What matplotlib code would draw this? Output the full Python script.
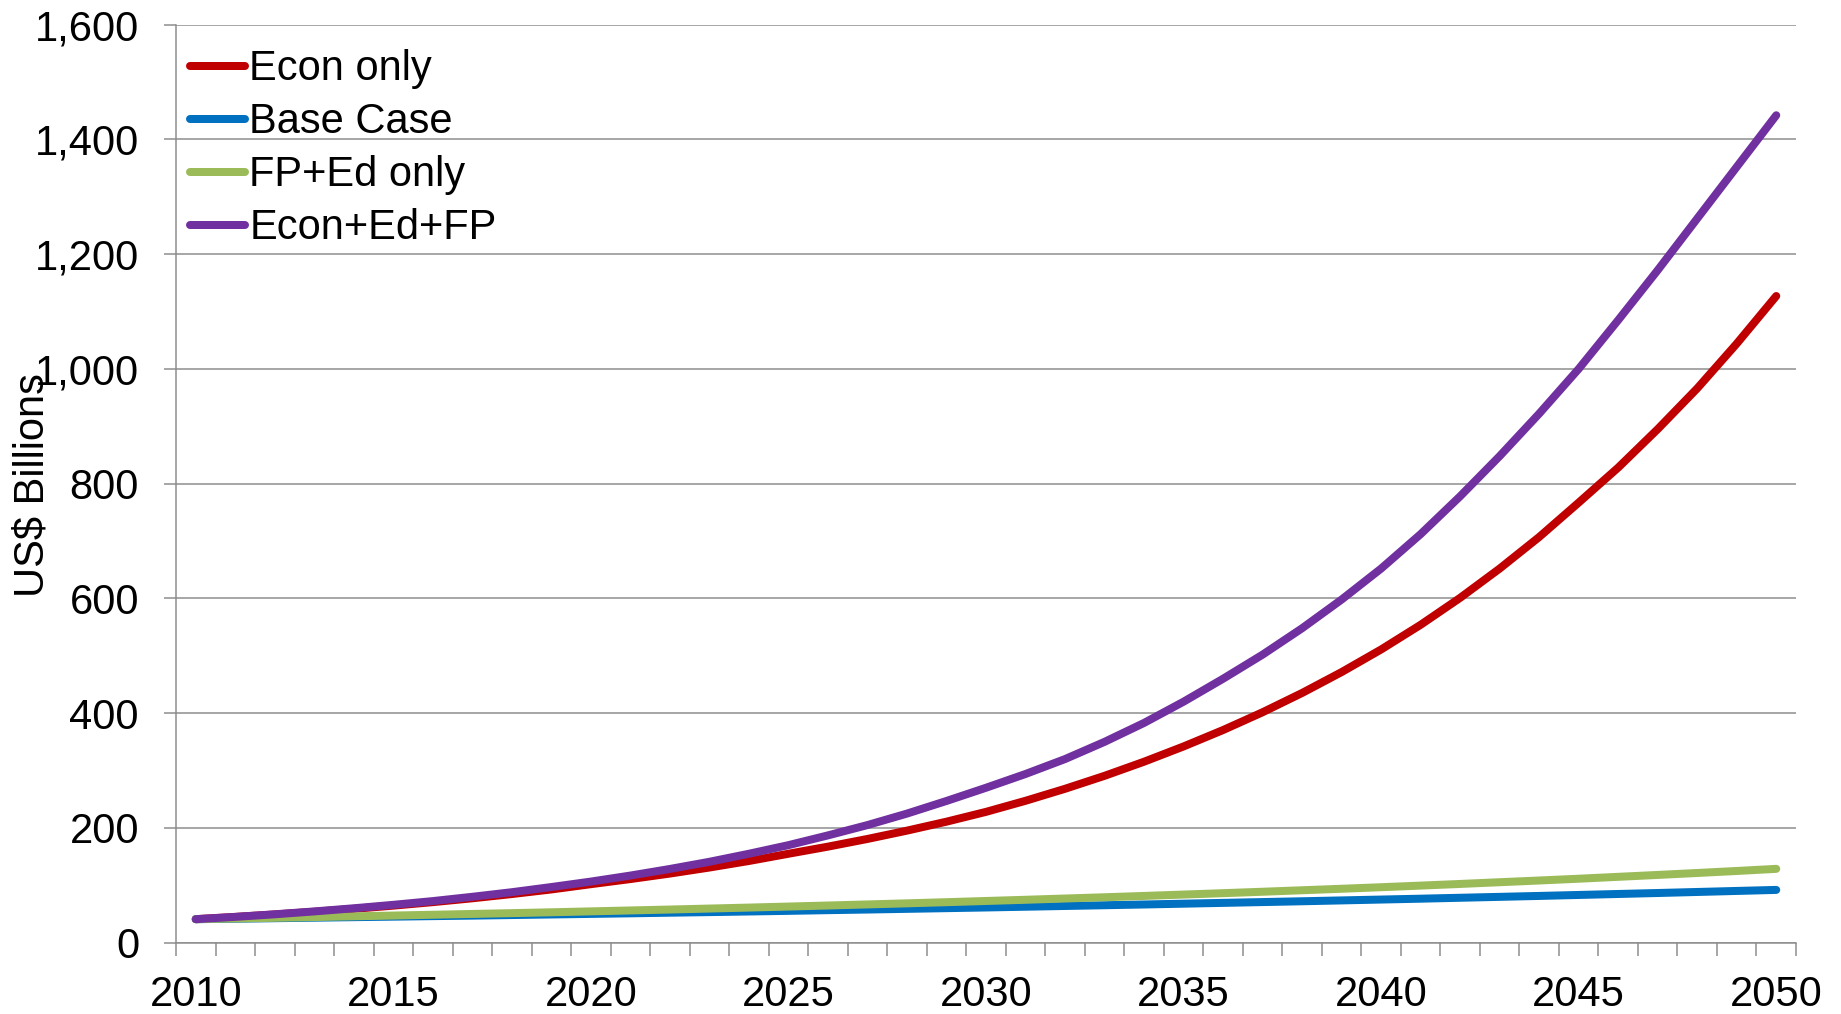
import matplotlib
matplotlib.use("Agg")
import matplotlib.pyplot as plt
from matplotlib.ticker import FuncFormatter, FixedLocator

plt.rcParams['font.family'] = ['Liberation Sans', 'DejaVu Sans']

years = list(range(2010, 2051))

econ_only = [41, 44.9, 49.2, 53.9, 59.0, 64.6, 70.7, 77.4, 84.8, 92.8,
             102, 110.9, 120.5, 131.0, 142.4, 155, 167.4, 180.8, 195.3, 210.9,
             228, 247.3, 268.2, 290.8, 315.4, 342, 370.6, 401.6, 435.2, 471.6,
             511, 554, 601, 652, 707, 767, 828, 895, 966, 1044, 1127]

base_case = [41, 41.8, 42.7, 43.6, 44.5, 45.4, 46.3, 47.2, 48.2, 49.2,
             50.2, 51.2, 52.3, 53.3, 54.4, 55.5, 56.7, 57.8, 59.0, 60.2,
             61.4, 62.7, 64.0, 65.3, 66.6, 68.0, 69.4, 70.8, 72.2, 73.7,
             75.2, 76.7, 78.3, 79.9, 81.5, 83.2, 84.9, 86.6, 88.4, 90.2, 92.0]

fp_ed_only = [41, 42.2, 43.4, 44.7, 46.0, 47.3, 48.7, 50.1, 51.5, 53.0,
              54.6, 56.2, 57.8, 59.5, 61.2, 63.0, 64.8, 66.7, 68.6, 70.6,
              72.7, 74.8, 77.0, 79.2, 81.5, 83.9, 86.3, 88.8, 91.4, 94.0,
              96.7, 99.5, 102.4, 105.4, 108.4, 111.5, 114.8, 118.1, 121.5, 125.0, 128.7]

econ_ed_fp = [41, 45, 49.5, 54.5, 60, 66, 72.5, 80, 88, 97,
              106.5, 117, 128.5, 141, 155, 170, 187, 205, 225, 247,
              270, 294, 320, 350, 383, 420, 460, 502, 548, 598,
              652, 712, 778, 848, 922, 1000, 1085, 1172, 1262, 1352, 1442]

series_names = ["Econ only", "Base Case", "FP+Ed only", "Econ+Ed+FP"]
series_values = [econ_only, base_case, fp_ed_only, econ_ed_fp]
series_colors = ["#C00000", "#0070C0", "#9BBB59", "#7030A0"]

y_ticks = list(range(0, 1601, 200))
x_label_years = list(range(2010, 2051, 5))

W, H = 1841, 1014
fig = plt.figure(figsize=(W / 100, H / 100), dpi=100)
ax = fig.add_axes([176 / W, 1 - 942.7 / H, 1620 / W, (942.7 - 24.6) / H])

px = 72 / 100  # points per pixel
for name, vals, col in zip(series_names, series_values, series_colors):
    ax.plot(years, vals, color=col, lw=8 * px, solid_capstyle='round',
            solid_joinstyle='round', label=name)

grid_col = "#8C8C8C"
ax.set_xlim(2009.5, 2050.5)
ax.set_ylim(0, 1600)
ax.set_yticks(y_ticks)
ax.yaxis.set_major_formatter(FuncFormatter(lambda v, p: f"{int(v):,}"))
ax.grid(axis='y', color=grid_col, lw=1.5 * px)
ax.set_axisbelow(True)

ax.set_xticks(x_label_years)
ax.set_xticklabels([str(y) for y in x_label_years])
ax.xaxis.set_minor_locator(FixedLocator([2009.5 + k for k in range(42)]))

for s in ['top', 'right']:
    ax.spines[s].set_visible(False)
for s in ['left', 'bottom']:
    ax.spines[s].set_color(grid_col)
    ax.spines[s].set_linewidth(1.5 * px)

ax.tick_params(axis='y', which='major', length=12 * px, width=1.5 * px,
               color=grid_col, direction='out', pad=25 * px, labelsize=30)
ax.tick_params(axis='x', which='major', length=0, pad=32 * px, labelsize=30)
ax.tick_params(axis='x', which='minor', length=12.5 * px, width=1.5 * px,
               color=grid_col, direction='out')

fig.text(33 / W, 1 - 485 / H, "US$ Billions", rotation=90, fontsize=30,
         ha='center', va='center')

leg = ax.legend(loc='upper left', bbox_to_anchor=(14 / 1620, 0.973),
                frameon=False, fontsize=30, handlelength=1.32,
                handletextpad=0.1, labelspacing=0.31, borderpad=0,
                borderaxespad=0)

fig.savefig("out.png", dpi=100)
